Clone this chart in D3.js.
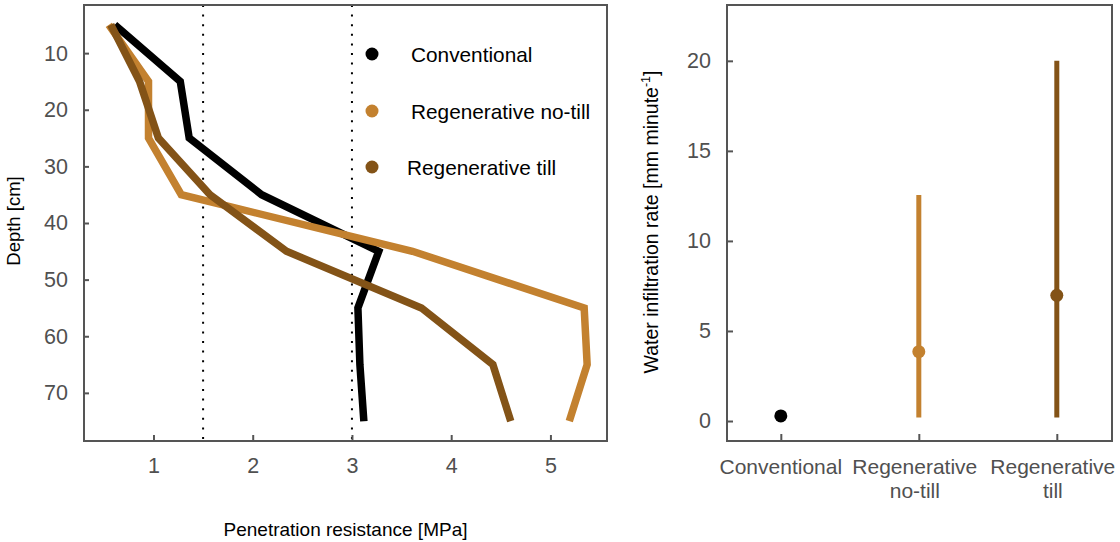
<!DOCTYPE html>
<html>
<head>
<meta charset="utf-8">
<script src="https://cdn.jsdelivr.net/npm/d3@7"></script>
<style>
  html, body { margin: 0; padding: 0; background: #fff; }
  svg { display: block; font-family: "Liberation Sans", Arial, sans-serif; }
</style>
</head>
<body>
<svg id="chart" width="1120" height="542"></svg>
<script>
// ---- Data ----
const depths = [5, 15, 25, 35, 45, 55, 65, 75];
const conventional = [0.61, 1.27, 1.36, 2.09, 3.27, 3.06, 3.08, 3.12];
const regenNoTill = [0.55, 0.95, 0.95, 1.28, 3.61, 5.34, 5.37, 5.19];
const regenTill = [0.57, 0.86, 1.05, 1.57, 2.34, 3.70, 4.42, 4.60];
const thresholds = [1.5, 3.0];
const depthTicks = [10, 20, 30, 40, 50, 60, 70];
const resistTicks = [1, 2, 3, 4, 5];

const categories = ["Conventional", "Regenerative no-till", "Regenerative till"];
const categoryLabels = [["Conventional"], ["Regenerative", "no-till"], ["Regenerative", "till"]];
const infilMean = [0.28, 3.85, 6.98];
const infilLow = [0.28, 0.2, 0.2];
const infilHigh = [0.28, 12.55, 20.0];
const infilTicks = [0, 5, 10, 15, 20];

const colors = ["#000000", "#C3812F", "#835317"];
const seriesNames = ["Conventional", "Regenerative no-till", "Regenerative till"];

// ---- Setup ----
const svg = d3.select("#chart");
const tickColor = "#505050";
const frameColor = "#555555";
const tickFont = "21.5px";

// ===== Left panel =====
const L = { x0: 84, x1: 607, y0: 5, y1: 441 };
const xL = d3.scaleLinear().domain([0.30, 5.57]).range([L.x0, L.x1]);
const yL = d3.scaleLinear().domain([1.5, 78.5]).range([L.y0, L.y1]);

const gL = svg.append("g");

// dotted threshold lines
gL.selectAll("line.thr").data(thresholds).enter().append("line")
  .attr("class", "thr")
  .attr("x1", d => xL(d)).attr("x2", d => xL(d))
  .attr("y1", L.y0).attr("y2", L.y1)
  .attr("stroke", "#000").attr("stroke-width", 2)
  .attr("stroke-dasharray", "2,7.6");

// profile lines
const profiles = [
  { vals: conventional, color: colors[0] },
  { vals: regenNoTill, color: colors[1] },
  { vals: regenTill, color: colors[2] }
];
const lineGen = d3.line().x(d => xL(d[0])).y(d => yL(d[1]));
gL.selectAll("path.prof").data(profiles).enter().append("path")
  .attr("class", "prof")
  .attr("d", p => lineGen(p.vals.map((v, i) => [v, depths[i]])))
  .attr("fill", "none")
  .attr("stroke", p => p.color)
  .attr("stroke-width", 7.5)
  .attr("stroke-linejoin", "miter")
  .attr("stroke-miterlimit", 10);

// axes
const axLy = gL.append("g").attr("transform", `translate(${L.x0},0)`)
  .call(d3.axisLeft(yL).tickValues(depthTicks).tickFormat(d3.format("d"))
    .tickSizeInner(-5).tickSizeOuter(0).tickPadding(16));
const axLx = gL.append("g").attr("transform", `translate(0,${L.y1})`)
  .call(d3.axisBottom(xL).tickValues(resistTicks).tickFormat(d3.format("d"))
    .tickSizeInner(-6).tickSizeOuter(0).tickPadding(17));
[axLy, axLx].forEach(a => {
  a.select(".domain").remove();
  a.selectAll(".tick line").attr("stroke", frameColor).attr("stroke-width", 2);
  a.selectAll(".tick text").attr("fill", tickColor).style("font-size", tickFont)
    .style("font-family", "'Liberation Sans', Arial, sans-serif");
});

// frame
gL.append("rect").attr("x", L.x0).attr("y", L.y0)
  .attr("width", L.x1 - L.x0).attr("height", L.y1 - L.y0)
  .attr("fill", "none").attr("stroke", frameColor).attr("stroke-width", 2);

// legend
const legY = [54, 111, 167];
const legTextX = [411, 411, 407];
const leg = gL.selectAll("g.leg").data(seriesNames).enter().append("g").attr("class", "leg");
leg.append("circle").attr("cx", 372).attr("cy", (d, i) => legY[i]).attr("r", 6.5)
  .attr("fill", (d, i) => colors[i]);
leg.append("text").attr("x", (d, i) => legTextX[i]).attr("y", (d, i) => legY[i] + 7.5)
  .text(d => d).attr("fill", "#000").style("font-size", "20.8px");

// axis titles
gL.append("text").attr("transform", "translate(20,221) rotate(-90)")
  .attr("text-anchor", "middle").style("font-size", "18.5px").text("Depth [cm]");
gL.append("text").attr("x", (L.x0 + L.x1) / 2).attr("y", 536)
  .attr("text-anchor", "middle").style("font-size", "19px").text("Penetration resistance [MPa]");

// ===== Right panel =====
const R = { x0: 727, x1: 1112, y0: 5, y1: 441 };
const xR = d3.scaleLinear().domain([0.61, 3.40]).range([R.x0, R.x1]);
const yR = d3.scaleLinear().domain([-1.11, 23.1]).range([R.y1, R.y0]);
const gR = svg.append("g");

const rows = categories.map((c, i) => ({ c, i, mean: infilMean[i], lo: infilLow[i], hi: infilHigh[i] }));

gR.selectAll("line.err").data(rows).enter().append("line")
  .attr("class", "err")
  .attr("x1", d => xR(d.i + 1)).attr("x2", d => xR(d.i + 1))
  .attr("y1", d => yR(d.lo)).attr("y2", d => yR(d.hi))
  .attr("stroke", d => colors[d.i]).attr("stroke-width", 5);
gR.selectAll("circle.pt").data(rows).enter().append("circle")
  .attr("class", "pt")
  .attr("cx", d => xR(d.i + 1)).attr("cy", d => yR(d.mean)).attr("r", 6.5)
  .attr("fill", d => colors[d.i]);

const axRy = gR.append("g").attr("transform", `translate(${R.x0},0)`)
  .call(d3.axisLeft(yR).tickValues(infilTicks).tickFormat(d3.format("d"))
    .tickSizeInner(-6).tickSizeOuter(0).tickPadding(16));
const axRx = gR.append("g").attr("transform", `translate(0,${R.y1})`)
  .call(d3.axisBottom(xR).tickValues([1, 2, 3]).tickSizeInner(-7).tickSizeOuter(0).tickFormat(""));
[axRy, axRx].forEach(a => {
  a.select(".domain").remove();
  a.selectAll(".tick line").attr("stroke", frameColor).attr("stroke-width", 2);
  a.selectAll(".tick text").attr("fill", tickColor).style("font-size", tickFont)
    .style("font-family", "'Liberation Sans', Arial, sans-serif");
});

// category labels (multi-line)
const catG = gR.selectAll("text.cat").data(categoryLabels).enter().append("text")
  .attr("class", "cat")
  .attr("text-anchor", "middle").attr("fill", tickColor).style("font-size", "21px");
catG.each(function (lines, i) {
  const t = d3.select(this);
  const shift = lines.length > 1 ? -4 : 0;
  lines.forEach((ln, k) => {
    t.append("tspan").attr("x", xR(i + 1) + shift).attr("y", 474 + k * 24).text(ln);
  });
});

gR.append("rect").attr("x", R.x0).attr("y", R.y0)
  .attr("width", R.x1 - R.x0).attr("height", R.y1 - R.y0)
  .attr("fill", "none").attr("stroke", frameColor).attr("stroke-width", 2);

const rt = gR.append("text").attr("transform", "translate(658,222) rotate(-90)")
  .attr("text-anchor", "middle").style("font-size", "19.5px");
rt.append("tspan").text("Water infiltration rate [mm minute");
rt.append("tspan").attr("dy", -8).style("font-size", "12.5px").text("-1");
rt.append("tspan").attr("dy", 8).text("]");
</script>
</body>
</html>
